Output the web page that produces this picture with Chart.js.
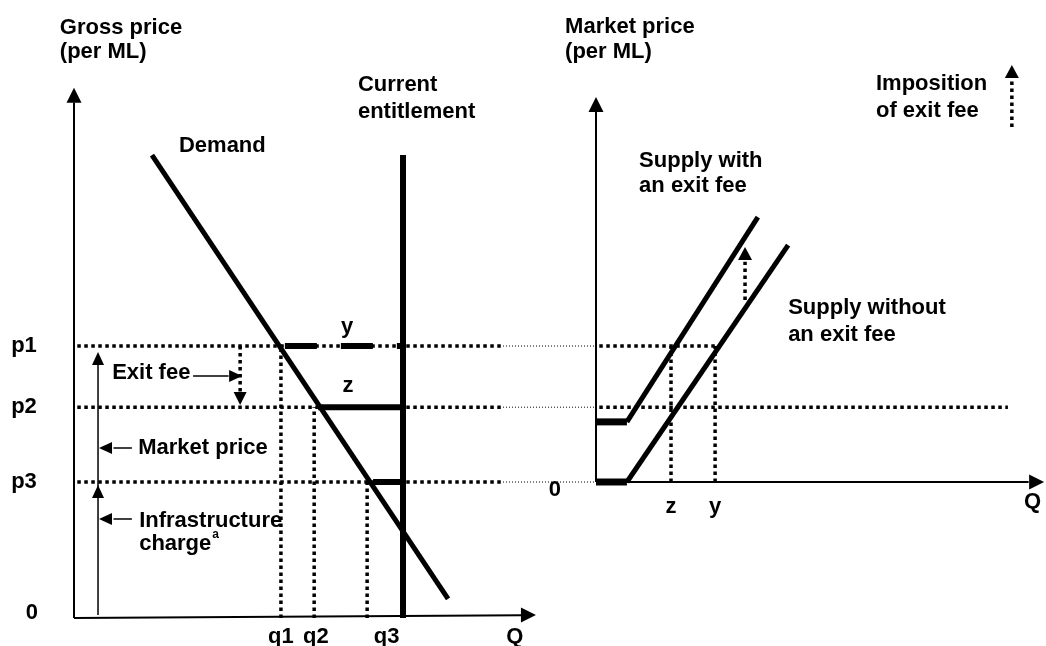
<!DOCTYPE html>
<html>
<head>
<meta charset="utf-8">
<script src="https://cdn.jsdelivr.net/npm/chart.js@4"></script>
<style>
  html, body { margin: 0; padding: 0; background: #ffffff; }
  #wrap { width: 1046px; height: 646px; }
</style>
</head>
<body>
<div id="wrap"><canvas id="c" width="1046" height="646"></canvas></div>
<script>
// ---------------- DATA (diagram units) ----------------
// Left panel: gross price (per ML) against quantity Q
const priceLabels = ['p1', 'p2', 'p3'];
const priceValues = [10, 7.75, 5];
const quantityLabels = ['q1', 'q2', 'q3'];
const quantityValues = [6.29, 7.3, 8.91];
const entitlementQ = 10;
const entitlementTop = 17.02;
const demandQ = [2.37, 11.37];
const demandP = [17.02, 0.70];
// segments y, z and the p3 segment up to the entitlement line
const segmentStartQ = [6.41, 7.42, 9.09];
// Right panel: market price (gross price minus infrastructure charge)
const infrastructureCharge = priceValues[2];
const exitFee = priceValues[0] - priceValues[1];
const supplyWithoutQ = [0, 0.94, 5.84];
const supplyWithoutP = [0, 0, 8.71];
const supplyWithQ = [0, 0.94, 4.92];
const supplyWithP = [2.21, 2.21, 9.74];
const marketQLabels = ['z', 'y'];
const marketQValues = [2.28, 3.62];

// ---------------- LAYOUT ----------------
const PX_PER_Q = 32.9, PX_PER_P = 27.2;
const W = 1046, H = 646;
const leftOrigin = [74, 618], rightOriginX = 596;
const FONT = 'bold 22px "Liberation Sans", Arial, sans-serif';
const SUP_FONT = 'bold 12px "Liberation Sans", Arial, sans-serif';

const mp = v => v - infrastructureCharge; // gross -> market price

function line(xs, ys, side, style) {
  const pts = xs.map((x, i) => ({ x: x, y: ys[i] }));
  return Object.assign({
    data: pts, showLine: true, pointRadius: 0, borderColor: '#000',
    backgroundColor: '#000', borderWidth: 2, tension: 0, fill: false,
    borderCapStyle: 'butt', borderJoinStyle: 'miter',
    xAxisID: side === 'R' ? 'xR' : 'xL', yAxisID: side === 'R' ? 'yR' : 'yL'
  }, style || {});
}
const AXIS = { borderWidth: 2 };
const THIN = { borderWidth: 1.5 };
const THICK = { borderWidth: 5 };
const BAR = { borderWidth: 6 };
const DOTS = { borderWidth: 3.5, borderDash: [3.5, 3.5] };
const FINE = { borderWidth: 1, borderDash: [1, 2] };

const datasets = [];
// Left axes
datasets.push(line([0, 0], [0, 18.95], 'L', AXIS));
datasets.push(line([0, 13.62], [0, 0.1], 'L', AXIS));
// Demand and current entitlement
datasets.push(line(demandQ, demandP, 'L', THICK));
datasets.push(line([entitlementQ, entitlementQ], [0, entitlementTop], 'L', BAR));
// Price levels: thick dots in the left panel, fine dots across to the right panel
priceValues.forEach(p => {
  datasets.push(line([0.1, 13.04], [p, p], 'L', DOTS));
  datasets.push(line([13.04, 15.87], [p, p], 'L', FINE));
});
// y (dashed), z and p3 segments to the entitlement
datasets.push(line([segmentStartQ[0], entitlementQ], [priceValues[0], priceValues[0]], 'L', { borderWidth: 6, borderDash: [32, 24] }));
datasets.push(line([segmentStartQ[1], entitlementQ], [priceValues[1], priceValues[1]], 'L', BAR));
datasets.push(line([segmentStartQ[2], entitlementQ], [priceValues[2], priceValues[2]], 'L', BAR));
// q verticals
quantityValues.forEach((q, i) => datasets.push(line([q, q], [0, priceValues[i]], 'L', DOTS)));
// Thin price-component arrow
datasets.push(line([0.73, 0.73], [0.11, 9.3], 'L', THIN));
// Exit fee pointer and dotted down arrow
datasets.push(line([3.62, 4.7], [8.9, 8.9], 'L', THIN));
datasets.push(line([5.05, 5.05], [priceValues[0], 8.3], 'L', DOTS));
// Market price / infrastructure pointers
datasets.push(line([1.76, 1.2], [6.25, 6.25], 'L', THIN));
datasets.push(line([1.76, 1.2], [3.64, 3.64], 'L', THIN));

// Right axes
datasets.push(line([0, 0], [0, 13.6], 'R', AXIS));
datasets.push(line([0, 13.15], [0, 0], 'R', AXIS));
// Supply curves (flat part heavier)
datasets.push(line(supplyWithoutQ.slice(0, 2), supplyWithoutP.slice(0, 2), 'R', { borderWidth: 7 }));
datasets.push(line(supplyWithoutQ.slice(1), supplyWithoutP.slice(1), 'R', THICK));
datasets.push(line(supplyWithQ.slice(0, 2), supplyWithP.slice(0, 2), 'R', { borderWidth: 7 }));
datasets.push(line(supplyWithQ.slice(1), supplyWithP.slice(1), 'R', THICK));
// Market price levels in the right panel
datasets.push(line([0.1, marketQValues[1]], [mp(priceValues[0]), mp(priceValues[0])], 'R', DOTS));
datasets.push(line([0.1, 12.52], [mp(priceValues[1]), mp(priceValues[1])], 'R', DOTS));
// z and y verticals
marketQValues.forEach(q => datasets.push(line([q, q], [0, mp(priceValues[0])], 'R', DOTS)));
// shift arrows (dotted)
datasets.push(line([4.53, 4.53], [6.69, 8.1], 'R', DOTS));
datasets.push(line([12.64, 12.64], [13.05, 14.8], 'R', DOTS));

// ---------------- ANNOTATIONS ----------------
// arrow heads: side, tip x, tip y, direction, length px, width px
const heads = [
  ['L', 0, 19.49, 'up', 15, 15],
  ['L', 14.04, 0.11, 'right', 15, 15],
  ['L', 0.73, 9.78, 'up', 13, 12],
  ['L', 0.73, 4.89, 'up', 13, 12],
  ['L', 5.11, 8.9, 'right', 13, 12],
  ['L', 5.05, 7.83, 'down', 13, 13],
  ['L', 0.76, 6.25, 'left', 13, 12],
  ['L', 0.76, 3.64, 'left', 13, 12],
  ['R', 0, 14.15, 'up', 15, 15],
  ['R', 13.62, 0, 'right', 15, 15],
  ['R', 4.53, 8.64, 'up', 13, 14],
  ['R', 12.64, 15.33, 'up', 13, 14]
];
// texts: side, text, x, y, align
const texts = [
  ['L', 'Gross price', -0.43, 21.7, 'left'],
  ['L', '(per ML)', -0.43, 20.8, 'left'],
  ['L', 'Current', 8.63, 19.6, 'left'],
  ['L', 'entitlement', 8.63, 18.6, 'left'],
  ['L', 'Demand', 3.19, 17.35, 'left'],
  ['L', 'y', 8.3, 10.7, 'center'],
  ['L', 'z', 8.33, 8.53, 'center'],
  ['L', 'Exit fee', 1.16, 9.0, 'left'],
  ['L', 'Market price', 1.95, 6.25, 'left'],
  ['L', 'Infrastructure', 1.98, 3.57, 'left'],
  ['L', 'charge', 1.98, 2.72, 'left', 'a'],
  ['L', '0', -1.28, 0.18, 'center'],
  ['L', 'Q', 13.4, -0.7, 'center'],
  ['R', 'Market price', -0.94, 16.73, 'left'],
  ['R', '(per ML)', -0.94, 15.81, 'left'],
  ['R', 'Imposition', 8.51, 14.63, 'left'],
  ['R', 'of exit fee', 8.51, 13.64, 'left'],
  ['R', 'Supply with', 1.31, 11.8, 'left'],
  ['R', 'an exit fee', 1.31, 10.88, 'left'],
  ['R', 'Supply without', 5.84, 6.4, 'left'],
  ['R', 'an exit fee', 5.84, 5.4, 'left'],
  ['R', '0', -1.25, -0.29, 'center'],
  ['R', 'Q', 13.27, -0.74, 'center']
];
const priceLabelQ = -1.52;
const quantityLabelQ = [6.29, 7.35, 9.5];

const annotate = {
  id: 'annotate',
  afterDatasetsDraw(chart) {
    const ctx = chart.ctx;
    const P = (side, x, y) => side === 'R'
      ? [chart.scales.xR.getPixelForValue(x), chart.scales.yR.getPixelForValue(y)]
      : [chart.scales.xL.getPixelForValue(x), chart.scales.yL.getPixelForValue(y)];
    ctx.save();
    ctx.fillStyle = '#000';
    heads.forEach(([s, x, y, dir, len, wid]) => {
      const [tx, ty] = P(s, x, y);
      const d = { up: [0, -1], down: [0, 1], left: [-1, 0], right: [1, 0] }[dir];
      const bx = tx - d[0] * len, by = ty - d[1] * len;
      const nx = -d[1] * wid / 2, ny = d[0] * wid / 2;
      ctx.beginPath();
      ctx.moveTo(tx, ty);
      ctx.lineTo(bx + nx, by + ny);
      ctx.lineTo(bx - nx, by - ny);
      ctx.closePath();
      ctx.fill();
    });
    ctx.font = FONT;
    ctx.textBaseline = 'middle';
    const put = (s, t, x, y, align, sup) => {
      const [px, py] = P(s, x, y);
      ctx.textAlign = align;
      ctx.font = FONT;
      ctx.fillText(t, px, py);
      if (sup) {
        const w = ctx.measureText(t).width;
        const sx = align === 'left' ? px + w + 1 : px + w / 2 + 1;
        ctx.font = SUP_FONT;
        ctx.textAlign = 'left';
        ctx.fillText(sup, sx, py - 9);
      }
    };
    texts.forEach(t => put(...t));
    priceLabels.forEach((l, i) => put('L', l, priceLabelQ, priceValues[i], 'center'));
    quantityLabels.forEach((l, i) => put('L', l, quantityLabelQ[i], -0.7, 'center'));
    marketQLabels.forEach((l, i) => put('R', l, marketQValues[i], -0.92, 'center'));
    ctx.restore();
  }
};

const yMinL = -(H - leftOrigin[1]) / PX_PER_P, yMaxL = leftOrigin[1] / PX_PER_P;
new Chart(document.getElementById('c'), {
  type: 'scatter',
  data: { datasets: datasets },
  options: {
    responsive: false,
    animation: false,
    layout: { padding: 0 },
    plugins: { legend: { display: false }, tooltip: { enabled: false } },
    events: [],
    scales: {
      xL: { type: 'linear', display: false, min: -leftOrigin[0] / PX_PER_Q, max: (W - leftOrigin[0]) / PX_PER_Q },
      yL: { type: 'linear', display: false, min: yMinL, max: yMaxL },
      xR: { type: 'linear', display: false, min: -rightOriginX / PX_PER_Q, max: (W - rightOriginX) / PX_PER_Q },
      yR: { type: 'linear', display: false, min: yMinL - infrastructureCharge, max: yMaxL - infrastructureCharge }
    }
  },
  plugins: [annotate]
});
</script>
</body>
</html>
